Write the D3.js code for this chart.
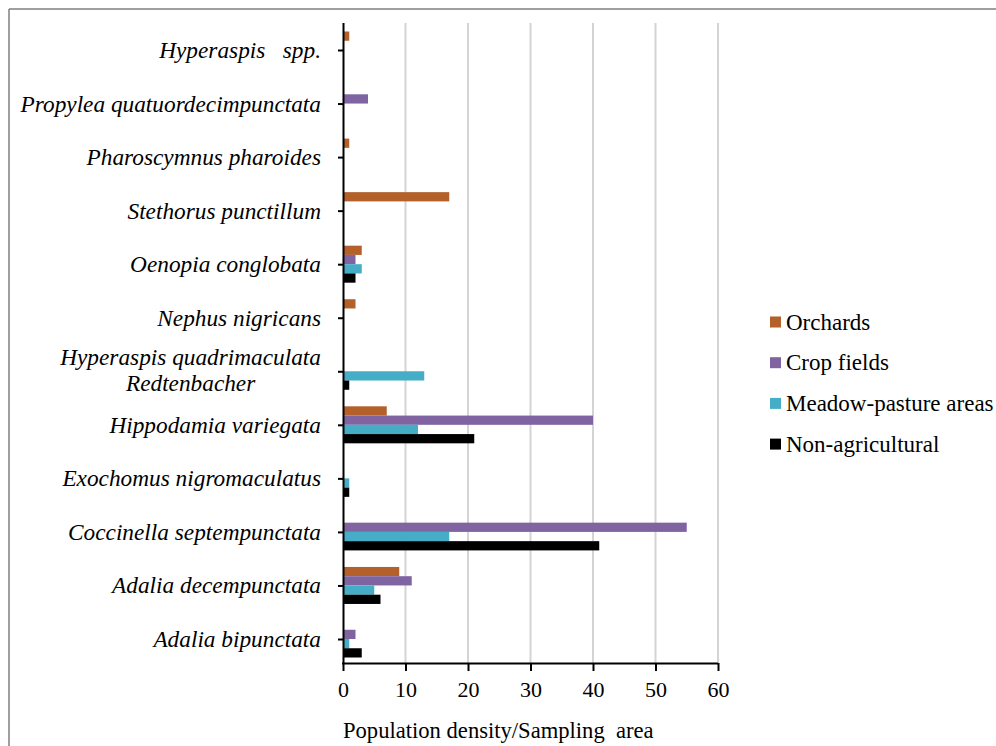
<!DOCTYPE html>
<html>
<head>
<meta charset="utf-8">
<script src="https://cdn.jsdelivr.net/npm/d3@7"></script>
<style>
  html, body { margin: 0; padding: 0; background: #fff; }
  svg { display: block; }
  text { font-family: "Liberation Serif", "Times New Roman", serif; fill: #000; }
</style>
</head>
<body>
<svg id="chart" width="996" height="746"></svg>
<script>
// ---- DATA ----
const categories = [
  "Hyperaspis   spp.",
  "Propylea quatuordecimpunctata",
  "Pharoscymnus pharoides",
  "Stethorus punctillum",
  "Oenopia conglobata",
  "Nephus nigricans",
  "Hyperaspis quadrimaculata|Redtenbacher",
  "Hippodamia variegata",
  "Exochomus nigromaculatus",
  "Coccinella septempunctata",
  "Adalia decempunctata",
  "Adalia bipunctata"
];
const seriesNames = ["Orchards", "Crop fields", "Meadow-pasture areas", "Non-agricultural"];
const orchards     = [1, 0, 1, 17, 3, 2, 0, 7, 0, 0, 9, 0];
const cropFields   = [0, 4, 0, 0, 2, 0, 0, 40, 0, 55, 11, 2];
const meadow       = [0, 0, 0, 0, 3, 0, 13, 12, 1, 17, 5, 1];
const nonAgri      = [0, 0, 0, 0, 2, 0, 1, 21, 1, 41, 6, 3];
const xTicks = [0, 10, 20, 30, 40, 50, 60];
const xTitle = "Population density/Sampling  area";
const colors = ["#B4602B", "#8064A2", "#45ADC6", "#000000"];

const seriesValues = [orchards, cropFields, meadow, nonAgri];

// ---- LAYOUT ----
const svg = d3.select("#chart");
const plotLeft = 343, plotRight = 718, plotTop = 23, plotBottom = 663;

// frame (top and left only, as in reference)
svg.append("line").attr("x1", 9).attr("x2", 996).attr("y1", 9).attr("y2", 9)
  .attr("stroke", "#7f7f7f").attr("stroke-width", 1.5);
svg.append("line").attr("x1", 9).attr("x2", 9).attr("y1", 9).attr("y2", 746)
  .attr("stroke", "#7f7f7f").attr("stroke-width", 1.5);

const x = d3.scaleLinear().domain([0, 60]).range([plotLeft, plotRight]);
const y = d3.scalePoint().domain(categories).range([50, 639]);
const inner = d3.scaleBand().domain(seriesNames).range([-18.5, 18.5]).padding(0);

// gridlines
svg.append("g").selectAll("line").data(xTicks.filter(d => d > 0)).join("line")
  .attr("x1", d => x(d)).attr("x2", d => x(d))
  .attr("y1", plotTop).attr("y2", plotBottom)
  .attr("stroke", "#d4d4d4").attr("stroke-width", 2);

// bars
const barData = [];
categories.forEach((c, i) => {
  seriesNames.forEach((s, j) => {
    barData.push({ cat: c, series: s, value: seriesValues[j][i], color: colors[j] });
  });
});
svg.append("g").selectAll("rect").data(barData.filter(d => d.value > 0)).join("rect")
  .attr("x", x(0))
  .attr("y", d => y(d.cat) + inner(d.series))
  .attr("width", d => x(d.value) - x(0))
  .attr("height", inner.bandwidth())
  .attr("fill", d => d.color);

// x axis
const xAxis = svg.append("g").attr("transform", `translate(0,${plotBottom})`)
  .call(d3.axisBottom(x).tickValues(xTicks).tickSize(8).tickPadding(10));
xAxis.select(".domain").attr("stroke", "#000").attr("stroke-width", 2).attr("d", `M${plotLeft-1},0.5H${plotRight}`);
xAxis.selectAll(".tick line").attr("stroke", "#000").attr("stroke-width", 2);
xAxis.selectAll(".tick text").attr("font-size", 22).attr("font-family", "Liberation Serif").attr("fill", "#000");

// y axis
const yAxis = svg.append("g").attr("transform", `translate(${plotLeft},0)`)
  .call(d3.axisLeft(y).tickSize(5).tickFormat(""));
yAxis.select(".domain").attr("stroke", "#000").attr("stroke-width", 2).attr("d", `M0.5,${plotTop}V${plotBottom+1}`);
yAxis.selectAll(".tick line").attr("stroke", "#000").attr("stroke-width", 2);

// category labels (italic)
const labelRight = 321;
const fs = 23.3;
const lab = svg.append("g");
categories.forEach(c => {
  const lines = c.split("|");
  const cy = y(c);
  if (lines.length === 1) {
    lab.append("text").attr("x", labelRight).attr("y", cy)
      .attr("text-anchor", "end").attr("dominant-baseline", "central")
      .attr("font-style", "italic").attr("font-size", fs)
      .style("white-space", "pre").text(lines[0]);
  } else {
    const t1 = lab.append("text").attr("y", cy - 14).attr("dominant-baseline", "central")
      .attr("font-style", "italic").attr("font-size", fs).style("white-space", "pre").text(lines[0]);
    const w1 = t1.node().getComputedTextLength();
    const center = labelRight - w1 / 2;
    t1.attr("x", center).attr("text-anchor", "middle");
    lab.append("text").attr("x", center).attr("y", cy + 12).attr("dominant-baseline", "central")
      .attr("text-anchor", "middle")
      .attr("font-style", "italic").attr("font-size", fs).style("white-space", "pre").text(lines[1]);
  }
});

// x title
svg.append("text").attr("x", plotLeft).attr("y", 730).attr("dominant-baseline", "central")
  .attr("font-size", 22.6).style("white-space", "pre").text(xTitle);

// legend
const legend = svg.append("g");
seriesNames.forEach((s, i) => {
  const ly = 322 + i * 40.7;
  legend.append("rect").attr("x", 770).attr("y", ly - 5.5).attr("width", 11).attr("height", 11).attr("fill", colors[i]);
  legend.append("text").attr("x", 786).attr("y", ly).attr("dominant-baseline", "central")
    .attr("font-size", 23).text(s);
});
</script>
</body>
</html>
